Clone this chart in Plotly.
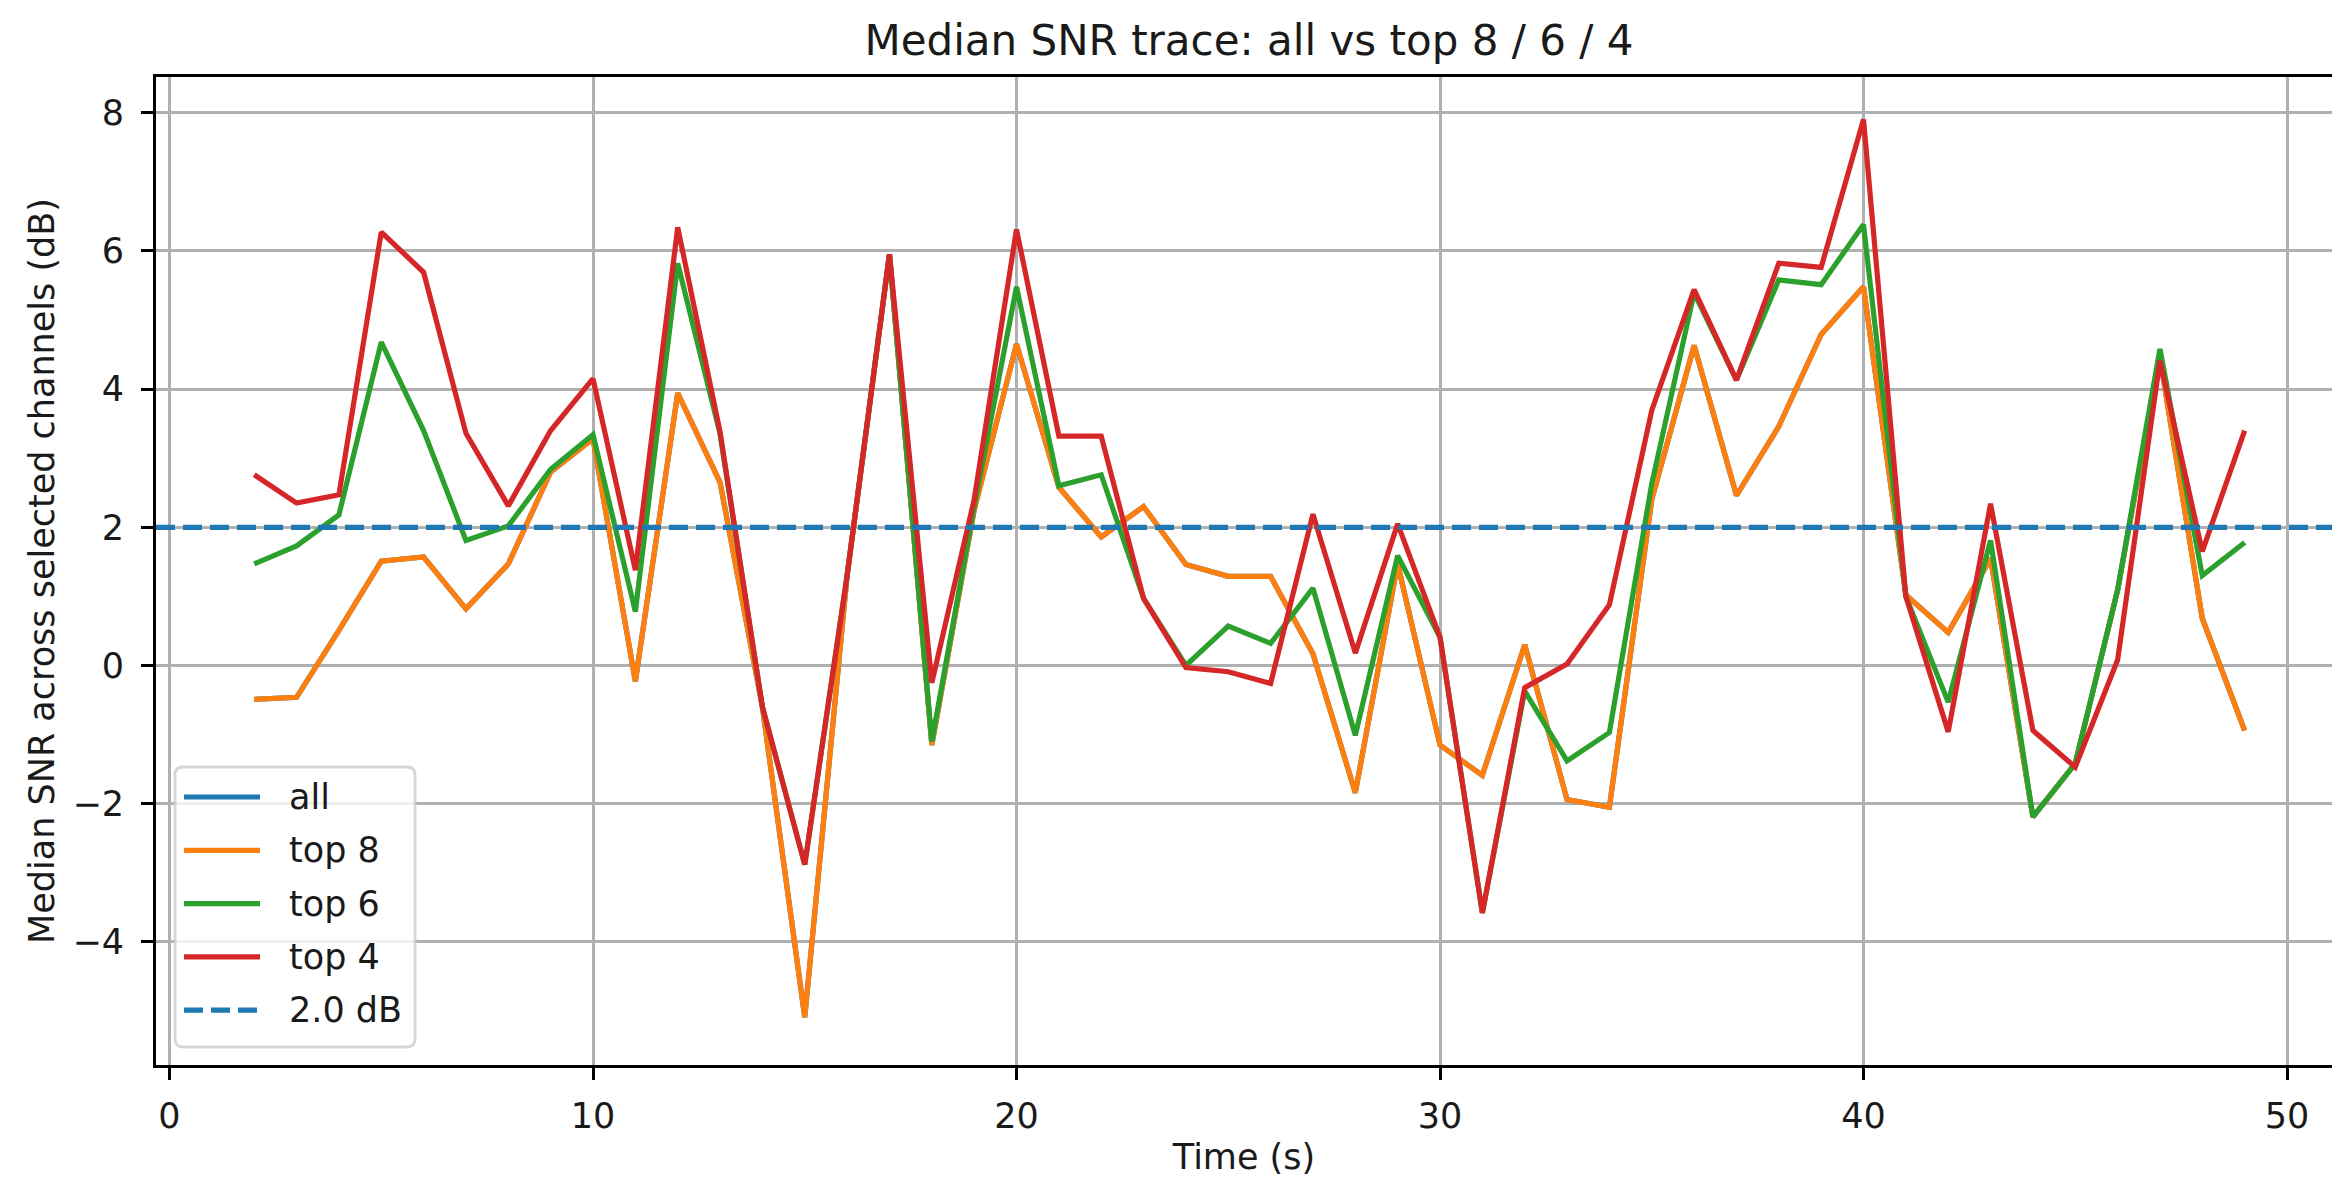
import plotly.graph_objects as go

# ---- data ----
time_s = list(range(2, 50))

top8 = [-0.49, -0.46, 0.51, 1.51, 1.57, 0.82, 1.47, 2.80, 3.28, -0.23,
        3.94, 2.65, -0.60, -5.09, 1.30, 5.95, -1.15, 2.25, 4.65, 2.58,
        1.86, 2.30, 1.46, 1.29, 1.29, 0.17, -1.84, 1.47, -1.15, -1.59,
        0.30, -1.94, -2.05, 2.40, 4.63, 2.46, 3.46, 4.79, 5.48, 1.02,
        0.48, 1.55, -2.19, -1.42, 1.09, 4.45, 0.68, -0.94]

all_ch = list(top8)  # hidden beneath "top 8" in the reference

top6 = [1.47, 1.73, 2.18, 4.68, 3.40, 1.81, 2.02, 2.84, 3.34, 0.78,
        5.82, 3.35, -0.60, -2.88, 1.30, 5.95, -1.10, 2.30, 5.48, 2.60,
        2.76, 0.97, 0.00, 0.57, 0.32, 1.12, -1.01, 1.59, 0.41, -3.58,
        -0.37, -1.38, -0.97, 2.63, 5.39, 4.13, 5.58, 5.51, 6.38, 1.00,
        -0.53, 1.81, -2.19, -1.42, 1.09, 4.58, 1.30, 1.78]

top4 = [2.76, 2.35, 2.47, 6.27, 5.69, 3.36, 2.31, 3.40, 4.15, 1.38,
        6.34, 3.38, -0.60, -2.88, 1.30, 5.95, -0.25, 2.40, 6.31, 3.32,
        3.32, 0.97, -0.03, -0.09, -0.26, 2.19, 0.18, 2.05, 0.41, -3.58,
        -0.32, 0.02, 0.88, 3.69, 5.44, 4.13, 5.82, 5.76, 7.90, 1.00,
        -0.96, 2.34, -0.94, -1.47, 0.08, 4.41, 1.65, 3.40]

threshold_db = 2.0
series_names = ["all", "top 8", "top 6", "top 4"]
series_values = [all_ch, top8, top6, top4]
series_colors = ["#1f77b4", "#ff7f0e", "#2ca02c", "#d62728"]
x_ticks = [0, 10, 20, 30, 40, 50]
y_ticks = [-4, -2, 0, 2, 4, 6, 8]

FONT = "DejaVu Sans"
TXT = "#1a1a1a"
LW = 5.2
DASH = "19px,8px"

W, H = 2332, 1177
# plot area in page pixels: left 156, top 77, right = window edge, bottom 1065
ML, MT, MR = 156, 77, 0
MB = H - 1065
PW, PH = W - ML - MR, H - MT - MB


def px_x(page_px):  # page pixel -> plot-area fraction
    return (page_px - ML) / PW


def px_y(page_py):
    return (H - MB - page_py) / PH


fig = go.Figure()
for name, vals, col in zip(series_names, series_values, series_colors):
    fig.add_trace(go.Scatter(
        x=time_s, y=vals, mode="lines", name=name,
        line=dict(color=col, width=LW), showlegend=False,
    ))

thr_label = f"{threshold_db:.1f} dB"
fig.add_shape(
    type="line", xref="paper", x0=0, x1=1, yref="y", y0=threshold_db, y1=threshold_db,
    line=dict(color="#1f77b4", width=LW, dash=DASH), layer="above",
)

# ---- legend drawn like matplotlib's (frame, long handles) ----
bx0, bx1, by0, by1, r = 175, 415, 767, 1047, 8
path = (f"M {px_x(bx0 + r)},{px_y(by0)} L {px_x(bx1 - r)},{px_y(by0)} "
        f"Q {px_x(bx1)},{px_y(by0)} {px_x(bx1)},{px_y(by0 + r)} "
        f"L {px_x(bx1)},{px_y(by1 - r)} Q {px_x(bx1)},{px_y(by1)} {px_x(bx1 - r)},{px_y(by1)} "
        f"L {px_x(bx0 + r)},{px_y(by1)} Q {px_x(bx0)},{px_y(by1)} {px_x(bx0)},{px_y(by1 - r)} "
        f"L {px_x(bx0)},{px_y(by0 + r)} Q {px_x(bx0)},{px_y(by0)} {px_x(bx0 + r)},{px_y(by0)} Z")
fig.add_shape(type="path", xref="paper", yref="paper", path=path,
              fillcolor="rgba(255,255,255,0.8)", line=dict(color="rgba(204,204,204,0.8)", width=2.8),
              layer="above")

leg_labels = series_names + [thr_label]
leg_colors = series_colors + ["#1f77b4"]
leg_dash = ["solid"] * 4 + [DASH]
for i, (lab, col, dsh) in enumerate(zip(leg_labels, leg_colors, leg_dash)):
    yc = 797 + i * 53.3
    fig.add_shape(type="line", xref="paper", yref="paper",
                  x0=px_x(184), x1=px_x(260), y0=px_y(yc), y1=px_y(yc),
                  line=dict(color=col, width=LW, dash=dsh), layer="above")
    fig.add_annotation(xref="paper", yref="paper", x=px_x(287), y=px_y(yc),
                       xanchor="left", yanchor="middle", text=lab, showarrow=False,
                       font=dict(family=FONT, size=35, color=TXT))

axis_common = dict(
    showgrid=True, gridcolor="#b0b0b0", gridwidth=2.8,
    showline=True, linecolor="black", linewidth=2.8,
    ticks="outside", ticklen=12, tickwidth=2.8, tickcolor="black",
    zeroline=False, automargin=False,
    tickfont=dict(family=FONT, size=35, color=TXT),
)

fig.update_layout(
    width=W, height=H,
    margin=dict(l=ML, r=MR, t=MT, b=MB, pad=0),
    paper_bgcolor="white", plot_bgcolor="white",
    font=dict(family=FONT, size=35, color=TXT),
    showlegend=False,
    title=dict(text="Median SNR trace: all vs top 8 / 6 / 4",
               font=dict(family=FONT, size=42, color=TXT),
               x=1249 / W, xanchor="center", xref="container",
               y=1 - 40 / H, yanchor="middle", yref="container"),
    xaxis=dict(
        range=[-0.319, (2332 - 169.5) / 42.35], tickvals=x_ticks, mirror=True,
        title=dict(text="Time (s)", font=dict(family=FONT, size=35, color=TXT), standoff=12),
        ticklabelstandoff=6,
        **axis_common,
    ),
    yaxis=dict(
        range=[-5.78, 8.515], tickvals=y_ticks, mirror=False,
        title=dict(text="Median SNR across selected channels (dB)",
                   font=dict(family=FONT, size=35, color=TXT), standoff=8),
        ticklabelstandoff=10,
        **axis_common,
    ),
)

fig.write_html(
    "out.html",
    config={"displayModeBar": False},
    post_script="document.body.style.margin='0';document.body.style.overflow='hidden';",
)
